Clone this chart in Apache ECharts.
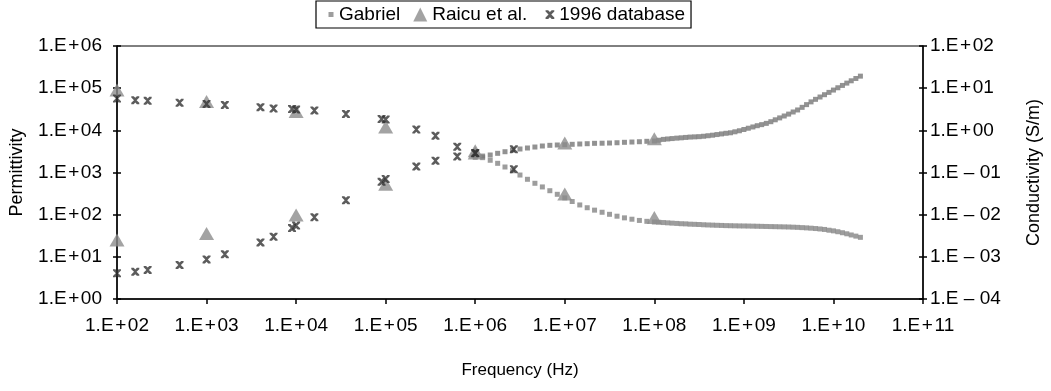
<!DOCTYPE html>
<html>
<head>
<meta charset="utf-8">
<script src="https://cdn.jsdelivr.net/npm/echarts@6/dist/echarts.min.js"></script>
<style>html,body{margin:0;padding:0;background:#fff}#c{width:1051px;height:391px}</style>
</head>
<body>
<div id="c"></div>
<script>
// ---- data ----
const gabrielFreq = [1e6,1.21e6,1.47e6,1.78e6,2.15e6,2.61e6,3.16e6,3.83e6,4.64e6,5.62e6,6.81e6,8.25e6,
  1e7,1.21e7,1.47e7,1.78e7,2.15e7,2.61e7,3.16e7,3.83e7,4.64e7,5.62e7,6.81e7,8.25e7,
  1e8,
  1.12e8,1.26e8,1.41e8,1.58e8,1.78e8,2.0e8,2.24e8,2.51e8,2.82e8,3.16e8,3.55e8,3.98e8,4.47e8,5.01e8,5.62e8,6.31e8,7.08e8,7.94e8,8.91e8,
  1e9,1.12e9,1.26e9,1.41e9,1.58e9,1.78e9,2.0e9,2.24e9,2.51e9,2.82e9,3.16e9,3.55e9,3.98e9,4.47e9,5.01e9,5.62e9,6.31e9,7.08e9,7.94e9,8.91e9,
  1e10,1.12e10,1.26e10,1.41e10,1.58e10,1.78e10,2.0e10];
const gabrielPerm = [2600,2250,1950,1650,1350,1100,871,690,555,455,370,304,
  250,205,170,146,128,114,102,92,84,78,73,69.5,
  67,
  66,65,64,63,62,61,60.5,59.5,59,58.4,57.6,57,56.5,56,55.5,55,54.7,54.4,54.1,
  53.9,53.7,53.4,53.1,52.8,52.5,52.2,51.9,51.6,51.3,51,50.5,50,49.3,48.6,47.8,46.9,45.8,44.6,42.8,
  41.3,39.4,37.3,35.2,33.0,31.0,29.0];
const gabrielCond = [0.23,0.245,0.26,0.285,0.311,0.341,0.361,0.381,0.402,0.425,0.441,0.449,
  0.456,0.466,0.474,0.482,0.492,0.495,0.500,0.508,0.520,0.528,0.537,0.549,
  0.558,
  0.582,0.610,0.624,0.638,0.653,0.665,0.679,0.692,0.700,0.708,0.724,0.745,0.767,0.794,0.822,0.851,0.875,0.923,0.977,
  1.047,1.122,1.202,1.288,1.365,1.462,1.603,1.778,1.972,2.188,2.427,2.723,3.041,3.508,4.074,4.732,5.433,6.166,6.998,7.943,
  9.016,10.23,11.61,13.18,14.96,16.98,19.28];

const dbFreq = [100,160,220,500,1000,1600,4000,5600,9000,10000,16000,36000,90000,100000,220000,360000,630000,1000000,2700000];
const dbPerm = [5.7e4,5.2e4,5.0e4,4.5e4,4.2e4,4.0e4,3.55e4,3.3e4,3.2e4,3.1e4,2.95e4,2.45e4,1.85e4,1.8e4,1.05e4,7.4e3,4.1e3,2.9e3,1.2e3];
const dbCond = [4.1e-4,4.4e-4,4.9e-4,6.4e-4,8.7e-4,1.15e-3,2.2e-3,3.0e-3,4.8e-3,5.5e-3,8.7e-3,0.022,0.06,0.07,0.138,0.19,0.24,0.285,0.355];

const raicuFreq = [1e2,1e3,1e4,1e5,1e6,1e7,1e8];
const raicuPerm = [9.1e4,4.8e4,2.8e4,1.2e4,3.3e3,310,86];
const raicuCond = [2.5e-3,3.6e-3,9.8e-3,0.053,0.29,0.5,0.63];

const seriesNames = ['Gabriel','Raicu et al.','1996 database'];
const xTitle = 'Frequency (Hz)';
const yLeftTitle = 'Permittivity';
const yRightTitle = 'Conductivity (S/m)';

// ---- chart ----
const FONT = 'Liberation Sans, Arial, sans-serif';
const pair = (xs, ys) => xs.map((x, i) => [x, ys[i]]);
function fmtExp(v) {
  const e = Math.round(Math.log10(v));
  const a = String(Math.abs(e)).padStart(2, '0');
  return e < 0 ? '1.E \u2013 ' + a : '1.E\u200a+\u200a' + a;
}
const XMARK = 'path://M0,0H3L5,2L7,0H10V1.6L6.6,5L10,8.4V10H7L5,8L3,10H0V8.4L3.4,5L0,1.6Z';
const XMARK_LEG = 'path://M-6,-3M10,13M0,0H3L5,2L7,0H10V1.6L6.6,5L10,8.4V10H7L5,8L3,10H0V8.4L3.4,5L0,1.6Z';
const SQ_LEG = 'path://M0,0M14,14M8.5,4.5H13.5V9.5H8.5Z';

const axisLineStyle = { color: '#000', width: 1.5 };
const labelStyle = { fontFamily: FONT, fontSize: 19, color: '#000' };
const titleStyle = { fontFamily: FONT, fontSize: 18, color: '#000' };

const chart = echarts.init(document.getElementById('c'), null, { renderer: 'canvas' });
chart.setOption({
  animation: false,
  backgroundColor: '#fff',
  grid: { left: 113, right: 125, top: 46, bottom: 92, show: true, borderColor: '#000', borderWidth: 1 },
  legend: {
    left: 316, top: 1,
    borderColor: '#000', borderWidth: 1.2, padding: [4, 6, 4, 4],
    itemGap: 13, itemWidth: 14, itemHeight: 14,
    textStyle: { fontFamily: FONT, fontSize: 19, color: '#000' },
    data: [
      { name: seriesNames[0], icon: SQ_LEG },
      { name: seriesNames[1], icon: 'triangle' },
      { name: seriesNames[2], icon: XMARK_LEG }
    ]
  },
  xAxis: {
    type: 'log', logBase: 10, min: 1e2, max: 1e11, splitNumber: 9,
    name: xTitle, nameLocation: 'middle', nameGap: 63,
    nameTextStyle: { fontFamily: FONT, fontSize: 17, color: '#000' },
    axisLine: { show: true, lineStyle: axisLineStyle },
    axisTick: { show: true, length: 5, inside: false, lineStyle: { color: '#000', width: 1.5 } },
    minorTick: { show: false },
    splitLine: { show: false },
    axisLabel: Object.assign({ formatter: fmtExp, margin: 17, showMinLabel: true, showMaxLabel: true }, labelStyle)
  },
  yAxis: [
    {
      type: 'log', logBase: 10, min: 1, max: 1e6, splitNumber: 6, position: 'left',
      name: yLeftTitle, nameLocation: 'middle', nameGap: 91, nameRotate: 90,
      nameTextStyle: titleStyle,
      axisLine: { show: true, lineStyle: axisLineStyle },
      axisTick: { show: true, length: 4, lineStyle: { color: '#000', width: 1.5 } },
      splitLine: { show: false },
      axisLabel: Object.assign({ formatter: fmtExp, margin: 15 }, labelStyle)
    },
    {
      type: 'log', logBase: 10, min: 1e-4, max: 1e2, splitNumber: 6, position: 'right',
      name: yRightTitle, nameLocation: 'middle', nameGap: 102, nameRotate: 90,
      nameTextStyle: titleStyle,
      axisLine: { show: true, lineStyle: axisLineStyle },
      axisTick: { show: true, length: 4, lineStyle: { color: '#000', width: 1.5 } },
      splitLine: { show: false },
      axisLabel: Object.assign({ formatter: fmtExp, margin: 7 }, labelStyle)
    },
    {
      type: 'log', logBase: 10, min: 1, max: 1e6, splitNumber: 6, position: 'left',
      axisLine: { show: false }, axisLabel: { show: false }, splitLine: { show: false },
      axisTick: { show: true, inside: true, length: 4, lineStyle: { color: '#000', width: 1.5 } }
    },
    {
      type: 'log', logBase: 10, min: 1e-4, max: 1e2, splitNumber: 6, position: 'right',
      axisLine: { show: false }, axisLabel: { show: false }, splitLine: { show: false },
      axisTick: { show: true, inside: true, length: 4, lineStyle: { color: '#000', width: 1.5 } }
    }
  ],
  series: [
    { name: seriesNames[0], type: 'scatter', yAxisIndex: 0, symbol: 'rect', symbolSize: 5,
      itemStyle: { color: '#858585' }, data: pair(gabrielFreq, gabrielPerm), z: 2 },
    { name: seriesNames[0], type: 'scatter', yAxisIndex: 1, symbol: 'rect', symbolSize: 5,
      itemStyle: { color: '#777777' }, data: pair(gabrielFreq, gabrielCond), z: 2 },
    { name: seriesNames[1], type: 'scatter', yAxisIndex: 0, symbol: 'triangle', symbolSize: [15, 13],
      itemStyle: { color: '#8c8c8c' }, data: pair(raicuFreq, raicuPerm), z: 3 },
    { name: seriesNames[1], type: 'scatter', yAxisIndex: 1, symbol: 'triangle', symbolSize: [15, 13],
      itemStyle: { color: '#8c8c8c' }, data: pair(raicuFreq, raicuCond), z: 3 },
    { name: seriesNames[2], type: 'scatter', yAxisIndex: 0, symbol: XMARK, symbolSize: 8,
      itemStyle: { color: '#333333' }, data: pair(dbFreq, dbPerm), z: 4 },
    { name: seriesNames[2], type: 'scatter', yAxisIndex: 1, symbol: XMARK, symbolSize: 8,
      itemStyle: { color: '#333333' }, data: pair(dbFreq, dbCond), z: 4 }
  ]
});
</script>
</body>
</html>
